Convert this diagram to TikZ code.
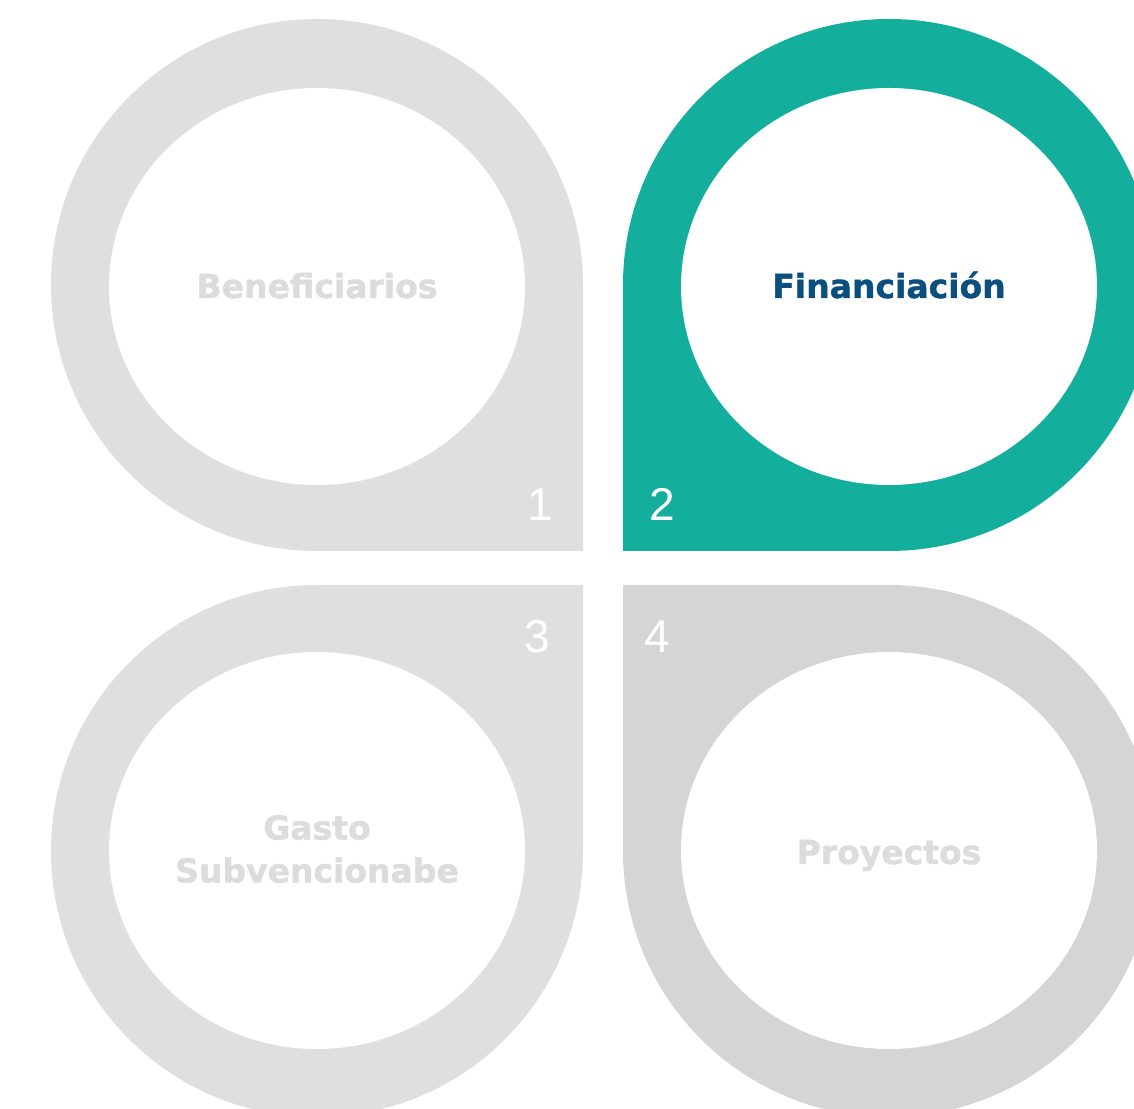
\documentclass[tikz,border=0pt]{standalone}
\usepackage{fontspec}
\newfontfamily\labelfont[BoldFeatures={FakeBold=1.2}]{DejaVu Sans}
\newfontfamily\numfont{Liberation Sans}
\definecolor{petalgray}{HTML}{DFDFDF}
\definecolor{petaldark}{HTML}{D5D5D5}
\definecolor{petalteal}{HTML}{13AE9C}
\definecolor{labelblue}{HTML}{0B4F7E}
\definecolor{labelgray}{HTML}{DCDCDC}
\tikzset{
	petallabel/.style={font=\labelfont\bfseries\fontsize{33}{43}\selectfont, align=center, inner sep=0pt},
	petalnum/.style={font=\numfont\fontsize{46}{46}\selectfont, text=white, inner sep=0pt, anchor=base},
}

\begin{document}
\begin{tikzpicture}[x=1pt, y=1pt]
			%%%%% START %%%%%
			
			\useasboundingbox (0, 0) rectangle (1134, 1108);
			\clip (0, 0) rectangle (1134, 1108);
			
			% top left
			\fill[petalgray] (583, 821) -- (583, 557) -- (317, 557) arc[start angle=270, end angle=0, radius=266] -- cycle;
			\fill[white] (317, 821.5) ellipse[x radius=208, y radius=198.5];
			
			% top right
			\fill[petalteal] (623, 821) -- (623, 557) -- (889, 557) arc[start angle=-90, end angle=180, radius=266] -- cycle;
			\fill[white] (889, 821.5) ellipse[x radius=208, y radius=198.5];
			
			% bottom left
			\fill[petalgray] (583, 257) -- (583, 523) -- (317, 523) arc[start angle=90, end angle=360, radius=266] -- cycle;
			\fill[white] (317, 257.5) ellipse[x radius=208, y radius=198.5];
			
			% bottom right
			\fill[petaldark] (623, 257) -- (623, 523) -- (889, 523) arc[start angle=90, end angle=-180, radius=266] -- cycle;
			\fill[white] (889, 257.5) ellipse[x radius=208, y radius=198.5];
			
			\node[petallabel, text=labelgray, anchor=base] (benef) at (317, 810) {Beneficiarios};
			\node[petallabel, text=labelblue, anchor=base] (financ) at (889, 810) {Financiación};
			\node[petallabel, text=labelgray] (gasto) at (317, 259) {Gasto\\Subvencionabe};
			\node[petallabel, text=labelgray, anchor=base] (proy) at (889, 244) {Proyectos};
			
			\node[petalnum] (numA) at (540, 587) {1};
			\node[petalnum] (numB) at (662, 587) {2};
			\node[petalnum] (numC) at (537, 455) {3};
			\node[petalnum] (numD) at (657, 455) {4};
			
			%%%%% END %%%%%
\end{tikzpicture}
\end{document}
